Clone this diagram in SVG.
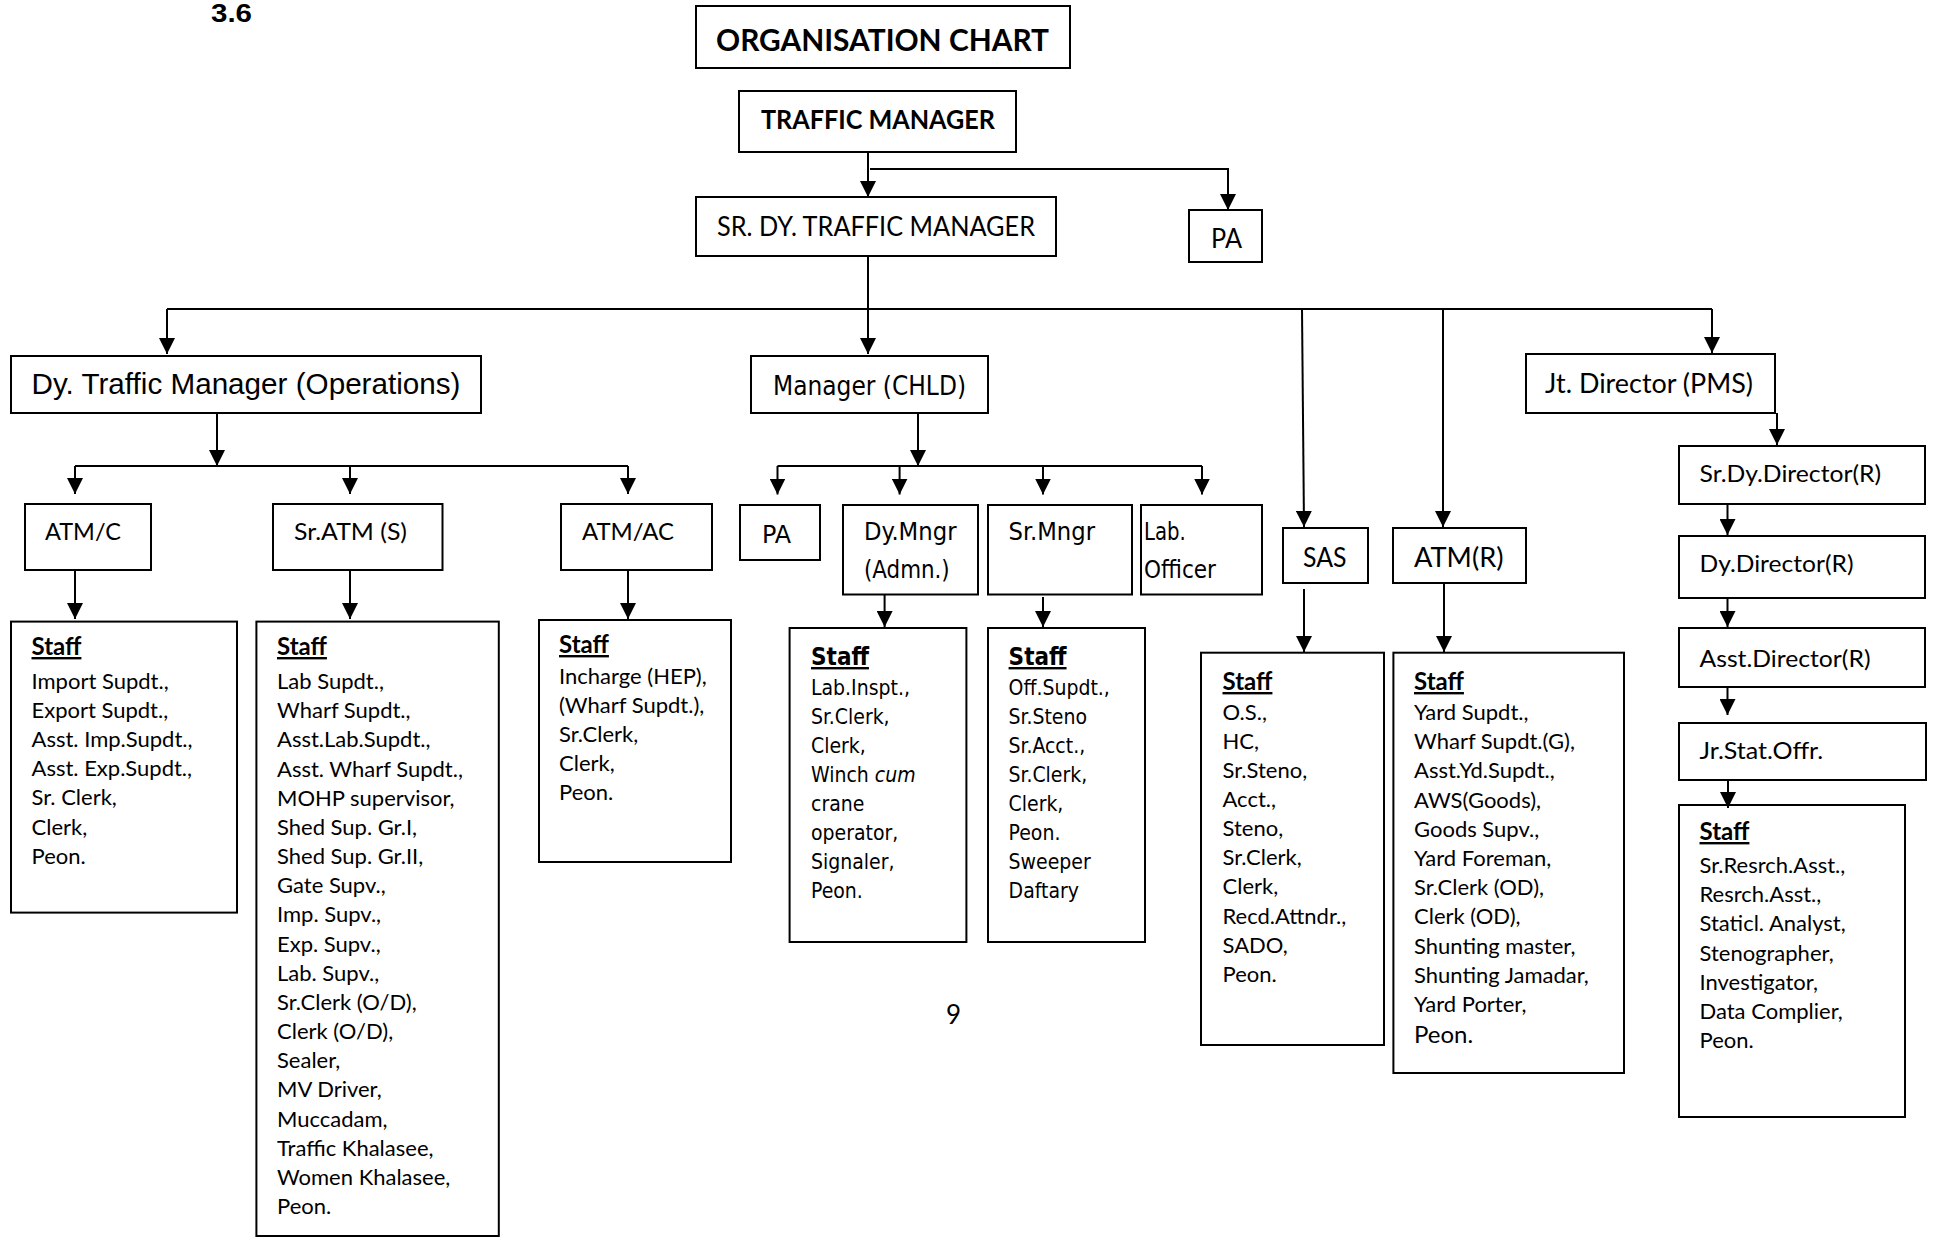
<svg xmlns="http://www.w3.org/2000/svg" width="1937" height="1237" viewBox="0 0 1937 1237">
<style>
.bx{fill:#fff;stroke:#000;stroke-width:2}
.c{font-family:Lato,"Open Sans",sans-serif;fill:#000}
.cb{font-family:Lato,"Open Sans",sans-serif;font-weight:bold;fill:#000}
.v{font-family:"DejaVu Sans Condensed","DejaVu Sans",sans-serif;font-stretch:condensed;fill:#000}
.a{font-family:"Liberation Sans",Arial,sans-serif;fill:#000}
.st{font-size:22px}
.sv{font-size:21px}
.h{font-weight:bold;text-decoration:underline;font-size:24px}
.conn path{fill:none;stroke:#000;stroke-width:2}
</style>
<defs>
<marker id="arr" viewBox="0 0 16 16" refX="16" refY="8" markerWidth="16" markerHeight="16" markerUnits="userSpaceOnUse" orient="auto"><path d="M0,0 L16,8 L0,16 Z" fill="#000"/></marker>
</defs>
<rect width="1937" height="1237" fill="#fff"/>
<text class="a" x="211" y="22" font-size="25" font-weight="bold" textLength="41" lengthAdjust="spacingAndGlyphs">3.6</text>
<text class="c" x="946" y="1024" font-size="26">9</text>

<g id="title"><rect class="bx" x="696" y="6" width="374" height="62"/><text class="cb" x="716" y="51" font-size="31" textLength="333" lengthAdjust="spacingAndGlyphs">ORGANISATION CHART</text></g>
<g id="traffic-manager"><rect class="bx" x="739" y="91" width="277" height="61"/><text class="cb" x="761" y="129" font-size="26" textLength="234" lengthAdjust="spacingAndGlyphs">TRAFFIC MANAGER</text></g>
<g id="sr-dy-tm"><rect class="bx" x="696" y="197" width="360" height="59"/><text class="c" x="717" y="236" font-size="26" textLength="318" lengthAdjust="spacingAndGlyphs">SR. DY. TRAFFIC MANAGER</text></g>
<g id="pa-top"><rect class="bx" x="1189" y="210" width="73" height="52"/><text class="c" x="1211" y="248" font-size="26" textLength="31" lengthAdjust="spacingAndGlyphs">PA</text></g>

<g id="dy-tm-ops"><rect class="bx" x="11" y="356" width="470" height="57"/><text class="a" x="31.5" y="394" font-size="29" textLength="429" lengthAdjust="spacingAndGlyphs">Dy. Traffic Manager (Operations)</text></g>
<g id="manager-chld"><rect class="bx" x="751" y="356" width="237" height="57"/><text class="v" x="773" y="395" font-size="26" textLength="193" lengthAdjust="spacingAndGlyphs">Manager (CHLD)</text></g>
<g id="jt-director"><rect class="bx" x="1526" y="354" width="249" height="59"/><text class="c" x="1545" y="393" font-size="26" textLength="208" lengthAdjust="spacingAndGlyphs">Jt. Director (PMS)</text></g>

<g id="atm-c"><rect class="bx" x="25" y="504" width="126" height="66"/><text class="c" x="45" y="540" font-size="24" textLength="76" lengthAdjust="spacingAndGlyphs">ATM/C</text></g>
<g id="sr-atm-s"><rect class="bx" x="273" y="504" width="169.5" height="66"/><text class="c" x="294" y="540" font-size="24" textLength="113" lengthAdjust="spacingAndGlyphs">Sr.ATM (S)</text></g>
<g id="atm-ac"><rect class="bx" x="561" y="504" width="151" height="66"/><text class="c" x="582" y="540" font-size="24" textLength="92" lengthAdjust="spacingAndGlyphs">ATM/AC</text></g>

<g id="pa-chld"><rect class="bx" x="740" y="505" width="80" height="55"/><text class="v" x="762" y="543" font-size="25" textLength="29" lengthAdjust="spacingAndGlyphs">PA</text></g>
<g id="dy-mngr"><rect class="bx" x="843" y="505" width="135" height="89.5"/><text class="v" font-size="24"><tspan x="864" y="540" textLength="92.5" lengthAdjust="spacingAndGlyphs">Dy.Mngr</tspan><tspan x="864" y="578" textLength="85.7" lengthAdjust="spacingAndGlyphs">(Admn.)</tspan></text></g>
<g id="sr-mngr"><rect class="bx" x="988" y="505" width="144" height="89.5"/><text class="v" x="1008.6" y="540" font-size="24" textLength="86.4" lengthAdjust="spacingAndGlyphs">Sr.Mngr</text></g>
<g id="lab-officer"><rect class="bx" x="1141" y="505" width="121" height="89.5"/><text class="v" font-size="24"><tspan x="1144" y="540" textLength="41.8" lengthAdjust="spacingAndGlyphs">Lab.</tspan><tspan x="1144" y="578" textLength="72" lengthAdjust="spacingAndGlyphs">Officer</tspan></text></g>

<g id="sas"><rect class="bx" x="1283" y="528" width="85" height="55"/><text class="c" x="1303" y="567" font-size="26" textLength="43.5" lengthAdjust="spacingAndGlyphs">SAS</text></g>
<g id="atm-r"><rect class="bx" x="1393" y="528" width="133" height="55"/><text class="c" x="1414" y="567" font-size="26" textLength="89.5" lengthAdjust="spacingAndGlyphs">ATM(R)</text></g>

<g id="sr-dy-director"><rect class="bx" x="1679" y="446" width="246" height="58"/><text class="c" x="1699.5" y="482" font-size="24" textLength="181.6" lengthAdjust="spacingAndGlyphs">Sr.Dy.Director(R)</text></g>
<g id="dy-director"><rect class="bx" x="1679" y="536" width="246" height="62"/><text class="c" x="1699.5" y="572" font-size="24" textLength="154" lengthAdjust="spacingAndGlyphs">Dy.Director(R)</text></g>
<g id="asst-director"><rect class="bx" x="1679" y="628" width="246" height="59"/><text class="c" x="1699.5" y="667" font-size="24" textLength="171" lengthAdjust="spacingAndGlyphs">Asst.Director(R)</text></g>
<g id="jr-stat-offr"><rect class="bx" x="1679" y="723" width="247" height="57"/><text class="c" x="1699.5" y="759" font-size="24" textLength="123.6" lengthAdjust="spacingAndGlyphs">Jr.Stat.Offr.</text></g>

<g id="staff-atm-c"><rect class="bx" x="11" y="621.6" width="226" height="291"/>
<text class="c h" x="31.5" y="655">Staff</text>
<text class="c st"><tspan x="31.5" y="689">Import Supdt.,</tspan><tspan x="31.5" y="718.1">Export Supdt.,</tspan><tspan x="31.5" y="747.2">Asst. Imp.Supdt.,</tspan><tspan x="31.5" y="776.3">Asst. Exp.Supdt.,</tspan><tspan x="31.5" y="805.4">Sr. Clerk,</tspan><tspan x="31.5" y="834.5">Clerk,</tspan><tspan x="31.5" y="863.6">Peon.</tspan></text></g>

<g id="staff-sr-atm"><rect class="bx" x="256.4" y="621.6" width="242.4" height="614.4"/>
<text class="c h" x="277" y="655">Staff</text>
<text class="c st"><tspan x="277" y="689">Lab Supdt.,</tspan><tspan x="277" y="718.2">Wharf Supdt.,</tspan><tspan x="277" y="747.3">Asst.Lab.Supdt.,</tspan><tspan x="277" y="776.5">Asst. Wharf Supdt.,</tspan><tspan x="277" y="805.7">MOHP supervisor,</tspan><tspan x="277" y="834.9">Shed Sup. Gr.I,</tspan><tspan x="277" y="864">Shed Sup. Gr.II,</tspan><tspan x="277" y="893.2">Gate Supv.,</tspan><tspan x="277" y="922.4">Imp. Supv.,</tspan><tspan x="277" y="951.5">Exp. Supv.,</tspan><tspan x="277" y="980.7">Lab. Supv.,</tspan><tspan x="277" y="1009.9">Sr.Clerk (O/D),</tspan><tspan x="277" y="1039">Clerk (O/D),</tspan><tspan x="277" y="1068.2">Sealer,</tspan><tspan x="277" y="1097.4">MV Driver,</tspan><tspan x="277" y="1126.6">Muccadam,</tspan><tspan x="277" y="1155.7">Traffic Khalasee,</tspan><tspan x="277" y="1184.9">Women Khalasee,</tspan><tspan x="277" y="1214">Peon.</tspan></text></g>

<g id="staff-atm-ac"><rect class="bx" x="539" y="620" width="192" height="242"/>
<text class="c h" x="559" y="653" font-size="22">Staff</text>
<text class="c st"><tspan x="559" y="684">Incharge (HEP),</tspan><tspan x="559" y="713">(Wharf Supdt.),</tspan><tspan x="559" y="742">Sr.Clerk,</tspan><tspan x="559" y="771">Clerk,</tspan><tspan x="559" y="800">Peon.</tspan></text></g>

<g id="staff-dy-mngr"><rect class="bx" x="789.6" y="628" width="176.8" height="314"/>
<text class="v h" x="811" y="665" font-size="21">Staff</text>
<text class="v sv"><tspan x="811" y="694.5">Lab.Inspt.,</tspan><tspan x="811" y="723.5">Sr.Clerk,</tspan><tspan x="811" y="752.5">Clerk,</tspan><tspan x="811" y="781.5">Winch <tspan font-style="italic">cum</tspan></tspan><tspan x="811" y="810.5">crane</tspan><tspan x="811" y="839.5">operator,</tspan><tspan x="811" y="868.5">Signaler,</tspan><tspan x="811" y="897.5">Peon.</tspan></text></g>

<g id="staff-sr-mngr"><rect class="bx" x="988" y="628" width="157" height="314"/>
<text class="v h" x="1008.6" y="665" font-size="21">Staff</text>
<text class="v sv"><tspan x="1008.6" y="694.5">Off.Supdt.,</tspan><tspan x="1008.6" y="723.5">Sr.Steno</tspan><tspan x="1008.6" y="752.5">Sr.Acct.,</tspan><tspan x="1008.6" y="781.5">Sr.Clerk,</tspan><tspan x="1008.6" y="810.5">Clerk,</tspan><tspan x="1008.6" y="839.5">Peon.</tspan><tspan x="1008.6" y="868.5">Sweeper</tspan><tspan x="1008.6" y="897.5">Daftary</tspan></text></g>

<g id="staff-sas"><rect class="bx" x="1201" y="652.7" width="183" height="392.3"/>
<text class="c h" x="1222.5" y="690">Staff</text>
<text class="c st"><tspan x="1222.5" y="720">O.S.,</tspan><tspan x="1222.5" y="749.1">HC,</tspan><tspan x="1222.5" y="778.1">Sr.Steno,</tspan><tspan x="1222.5" y="807.2">Acct.,</tspan><tspan x="1222.5" y="836.3">Steno,</tspan><tspan x="1222.5" y="865.4">Sr.Clerk,</tspan><tspan x="1222.5" y="894.4">Clerk,</tspan><tspan x="1222.5" y="923.5">Recd.Attndr.,</tspan><tspan x="1222.5" y="952.6">SADO,</tspan><tspan x="1222.5" y="981.6">Peon.</tspan></text></g>

<g id="staff-atm-r"><rect class="bx" x="1393.4" y="652.7" width="230.6" height="420.3"/>
<text class="c h" x="1414" y="690">Staff</text>
<text class="c st"><tspan x="1414" y="720">Yard Supdt.,</tspan><tspan x="1414" y="749.2">Wharf Supdt.(G),</tspan><tspan x="1414" y="778.4">Asst.Yd.Supdt.,</tspan><tspan x="1414" y="807.6">AWS(Goods),</tspan><tspan x="1414" y="836.8">Goods Supv.,</tspan><tspan x="1414" y="866">Yard Foreman,</tspan><tspan x="1414" y="895.2">Sr.Clerk (OD),</tspan><tspan x="1414" y="924.4">Clerk (OD),</tspan><tspan x="1414" y="953.6">Shunting master,</tspan><tspan x="1414" y="982.8">Shunting Jamadar,</tspan><tspan x="1414" y="1012">Yard Porter,</tspan><tspan x="1414" y="1043.3" font-size="24">Peon.</tspan></text></g>

<g id="staff-research"><rect class="bx" x="1679" y="805" width="226" height="312"/>
<text class="c h" x="1699.5" y="840">Staff</text>
<text class="c st"><tspan x="1699.5" y="873">Sr.Resrch.Asst.,</tspan><tspan x="1699.5" y="902.2">Resrch.Asst.,</tspan><tspan x="1699.5" y="931.4">Staticl. Analyst,</tspan><tspan x="1699.5" y="960.6">Stenographer,</tspan><tspan x="1699.5" y="989.8">Investigator,</tspan><tspan x="1699.5" y="1019">Data Complier,</tspan><tspan x="1699.5" y="1048.2">Peon.</tspan></text></g>

<g id="connectors" class="conn">
<path d="M868,152 V197" marker-end="url(#arr)"/>
<path d="M870,169 H1228 V210" marker-end="url(#arr)"/>
<path d="M868,256 V354" marker-end="url(#arr)"/>
<path d="M167,309 H1712"/>
<path d="M167,309 V354" marker-end="url(#arr)"/>
<path d="M1302,309 L1304,527" stroke-width="1.6" marker-end="url(#arr)"/>
<path d="M1443,309 V527" stroke-width="1.6" marker-end="url(#arr)"/>
<path d="M1712,309 V353" marker-end="url(#arr)"/>
<path d="M217,413 V466" marker-end="url(#arr)"/>
<path d="M75,466 H628"/>
<path d="M75,466 V494" marker-end="url(#arr)"/>
<path d="M350,466 V494" marker-end="url(#arr)"/>
<path d="M628,466 V494" marker-end="url(#arr)"/>
<path d="M75,570 V619" marker-end="url(#arr)"/>
<path d="M350,570 V619" marker-end="url(#arr)"/>
<path d="M628,570 V619" marker-end="url(#arr)"/>
<path d="M918,413 V466" marker-end="url(#arr)"/>
<path d="M777.5,466 H1202"/>
<path d="M777.5,466 V494.5" marker-end="url(#arr)"/>
<path d="M899.6,466 V494.5" marker-end="url(#arr)"/>
<path d="M1043,466 V494.5" marker-end="url(#arr)"/>
<path d="M1202,466 V494.5" marker-end="url(#arr)"/>
<path d="M884.6,595 V627" marker-end="url(#arr)"/>
<path d="M1043,597 V627" marker-end="url(#arr)"/>
<path d="M1304,589 V652" stroke-width="1.6" marker-end="url(#arr)"/>
<path d="M1444,583 V652" stroke-width="1.6" marker-end="url(#arr)"/>
<path d="M1777,413 V445" marker-end="url(#arr)"/>
<path d="M1727.5,504 V535" marker-end="url(#arr)"/>
<path d="M1727.5,598 V627" marker-end="url(#arr)"/>
<path d="M1727.5,687 V715" marker-end="url(#arr)"/>
<path d="M1728,780 V808" marker-end="url(#arr)"/>
</g>
</svg>
